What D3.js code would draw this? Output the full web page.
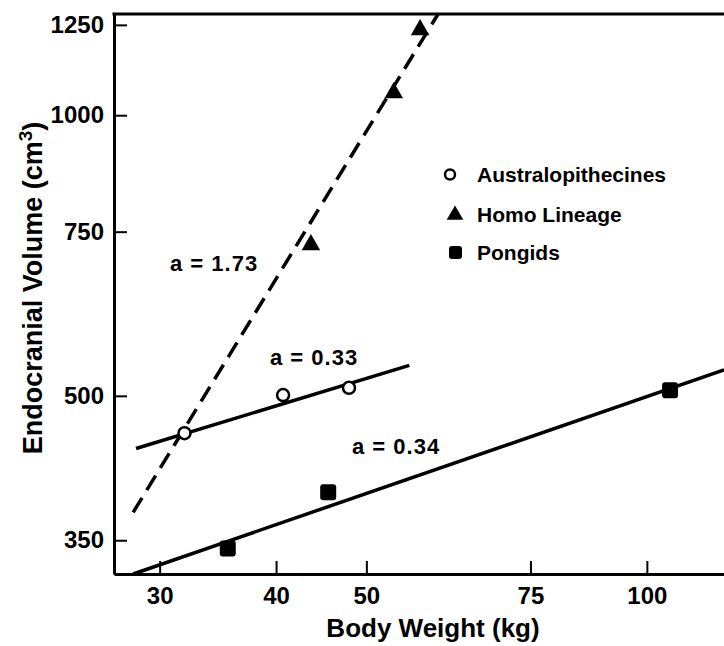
<!DOCTYPE html>
<meta charset="utf-8">
<style>
body { margin: 0; background: #fff; }
text { font-family: "Liberation Sans", Arial, sans-serif; font-weight: bold; fill: #000; }
.axis path { stroke: #000; stroke-width: 3; }
.axis line { stroke: #000; stroke-width: 2; }
.axis text { font-size: 24px; font-family: "Liberation Sans", Arial, sans-serif; font-weight: bold; }
</style>
<body>
<script src="https://d3js.org/d3.v7.min.js"></script>
<script>
// tick labels
var xTicks = [30, 40, 50, 75, 100];
var yTicks = [350, 500, 750, 1000, 1250];

// points (body weight kg, endocranial volume cm3)
var ausWeight = [31.9, 40.7, 47.9];
var ausVolume = [456, 501, 510];
var homoWeight = [43.6, 53.5, 57.1];
var homoVolume = [726, 1057, 1235];
var pongWeight = [35.5, 45.5, 105.9];
var pongVolume = [343, 394, 507];

// fitted lines, end points
var ausLine = [[28.3, 439], [55.6, 539]];
var homoLine = [[28.1, 375], [59.7, 1284]];
var pongLine = [[28.1, 322], [121, 533]];

var legendNames = ["Australopithecines", "Homo Lineage", "Pongids"];

var width = 724, height = 646;
// plot box edges
var plot = {left: 114, right: 724, top: 14, bottom: 574};

var x = d3.scaleLog().domain([26.8, 121]).range([plot.left, plot.right]);
var y = d3.scaleLog().domain([322, 1284]).range([plot.bottom, plot.top]);

var svg = d3.select("body").append("svg")
    .attr("width", width)
    .attr("height", height);

svg.append("rect").attr("width", width).attr("height", height).attr("fill", "#fff");

// axes, ticks pointing inward
svg.append("g")
    .attr("class", "axis")
    .attr("transform", "translate(" + plot.left + ",0)")
    .call(d3.axisLeft(y).tickValues(yTicks).tickFormat(d3.format("d")).tickSize(-13).tickSizeOuter(0).tickPadding(10));

svg.append("g")
    .attr("class", "axis")
    .attr("transform", "translate(0," + plot.bottom + ")")
    .call(d3.axisBottom(x).tickValues(xTicks).tickFormat(d3.format("d")).tickSize(-13).tickSizeOuter(0).tickPadding(13));

// top frame line
svg.append("line")
    .attr("x1", plot.left - 1.5).attr("x2", plot.right)
    .attr("y1", plot.top).attr("y2", plot.top)
    .attr("stroke", "#000").attr("stroke-width", 3);

// fit lines
var line = d3.line()
    .x(function(d) { return x(d[0]); })
    .y(function(d) { return y(d[1]); });

svg.append("path").datum(ausLine).attr("d", line)
    .attr("fill", "none").attr("stroke", "#000").attr("stroke-width", 3.5);
svg.append("path").datum(pongLine).attr("d", line)
    .attr("fill", "none").attr("stroke", "#000").attr("stroke-width", 3.5);
svg.append("path").datum(homoLine).attr("d", line)
    .attr("fill", "none").attr("stroke", "#000").attr("stroke-width", 3.5)
    .attr("stroke-dasharray", "17,9");

// markers
svg.selectAll(".aus")
    .data(d3.range(ausWeight.length))
  .enter().append("circle")
    .attr("cx", function(i) { return x(ausWeight[i]); })
    .attr("cy", function(i) { return y(ausVolume[i]); })
    .attr("r", 6)
    .attr("fill", "#fff").attr("stroke", "#000").attr("stroke-width", 2.5);

var tri = d3.symbol().type(d3.symbolTriangle).size(150);
svg.selectAll(".homo")
    .data(d3.range(homoWeight.length))
  .enter().append("path")
    .attr("d", tri)
    .attr("transform", function(i) { return "translate(" + x(homoWeight[i]) + "," + y(homoVolume[i]) + ")"; })
    .attr("fill", "#000");

svg.selectAll(".pong")
    .data(d3.range(pongWeight.length))
  .enter().append("rect")
    .attr("x", function(i) { return x(pongWeight[i]) - 8; })
    .attr("y", function(i) { return y(pongVolume[i]) - 8; })
    .attr("width", 16).attr("height", 16)
    .attr("rx", 3)
    .attr("fill", "#000");

// slope labels
svg.append("text").attr("x", 170).attr("y", 271).style("font-size", "22px").attr("letter-spacing", 1).text("a = 1.73");
svg.append("text").attr("x", 270).attr("y", 365).style("font-size", "22px").attr("letter-spacing", 1).text("a = 0.33");
svg.append("text").attr("x", 352).attr("y", 454).style("font-size", "22px").attr("letter-spacing", 1).text("a = 0.34");

// legend
var leg = svg.append("g");
leg.append("circle").attr("cx", 450).attr("cy", 174.5).attr("r", 5)
    .attr("fill", "#fff").attr("stroke", "#000").attr("stroke-width", 2.5);
leg.append("path").attr("d", d3.symbol().type(d3.symbolTriangle).size(120))
    .attr("transform", "translate(455,215)").attr("fill", "#000");
leg.append("rect").attr("x", 449).attr("y", 246).attr("width", 13).attr("height", 13).attr("rx", 3).attr("fill", "#000");
leg.selectAll(".lt")
    .data(legendNames)
  .enter().append("text")
    .attr("x", 477)
    .attr("y", function(d, i) { return [182, 222, 260][i]; })
    .style("font-size", "21px")
    .text(function(d) { return d; });

// axis titles
svg.append("text")
    .attr("x", 433)
    .attr("y", 637)
    .attr("text-anchor", "middle")
    .style("font-size", "26px")
    .text("Body Weight (kg)");

var yt = svg.append("text")
    .attr("transform", "translate(42,288) rotate(-90)")
    .attr("text-anchor", "middle")
    .style("font-size", "27px");
yt.append("tspan").text("Endocranial Volume (cm");
yt.append("tspan").attr("dy", -10).style("font-size", "19px").text("3");
yt.append("tspan").attr("dy", 10).text(")");
</script>
</body>
